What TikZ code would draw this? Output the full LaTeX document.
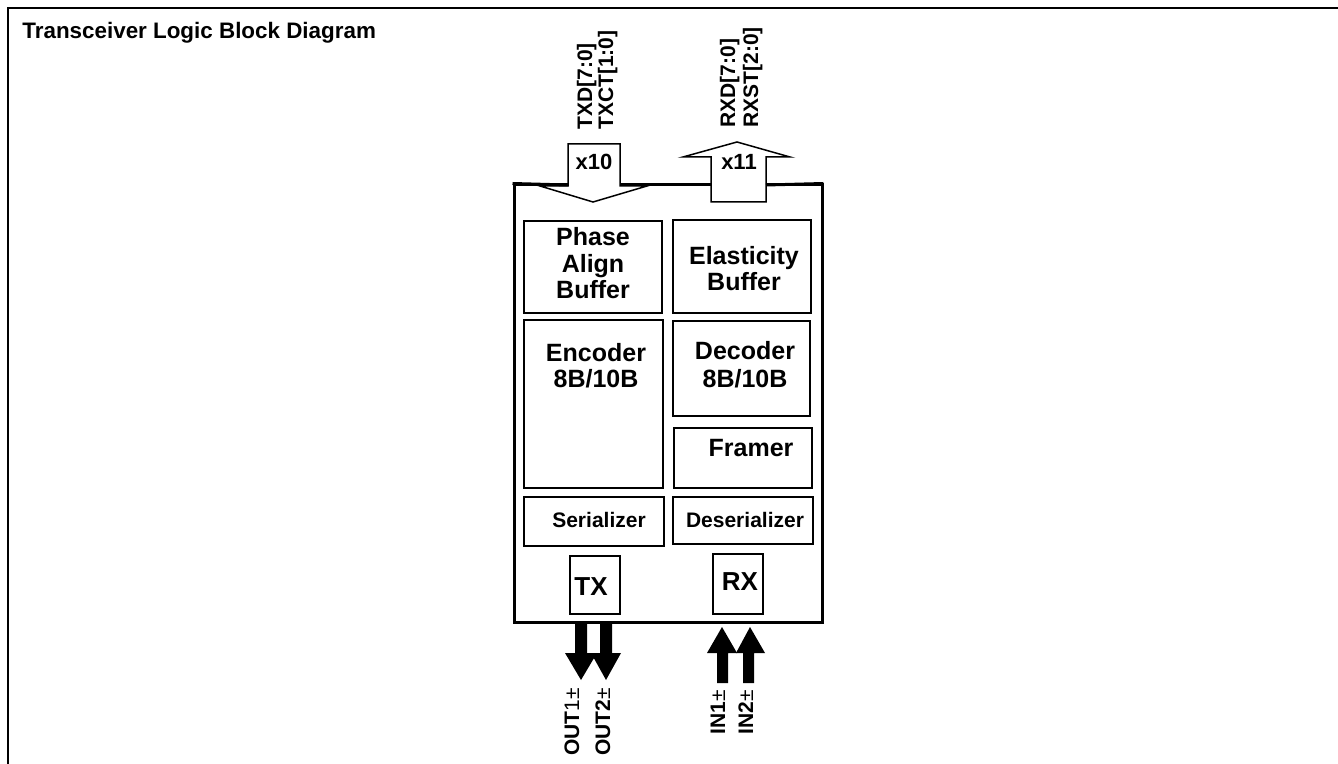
\documentclass[tikz,border=0pt]{standalone}
\usepackage{fontspec}
\setmainfont{Liberation Sans}
\usetikzlibrary{fit}
\begin{document}
\begin{tikzpicture}[x=0.5pt,y=-0.5pt,
  frameline/.style={line width=1.25pt},
  mainbox/.style={draw, line width=1.5pt, inner sep=0pt},
  blk/.style={draw, line width=0.75pt, inner sep=0pt},
  hollow/.style={draw, fill=white, line width=0.75pt, line join=miter},
  solidarrow/.style={fill=black},
  titletext/.style={font=\fontsize{11.2}{12}\selectfont\bfseries, inner sep=0pt, anchor=base west},
  bigtext/.style={font=\fontsize{12.5}{13}\selectfont\bfseries, inner sep=0pt, anchor=base},
  smalltext/.style={font=\fontsize{10.5}{11}\selectfont\bfseries, inner sep=0pt, anchor=base},
  iotext/.style={font=\fontsize{13}{14}\selectfont\bfseries, inner sep=0pt, anchor=base},
  multtext/.style={font=\fontsize{11}{12}\selectfont\bfseries, inner sep=0pt, anchor=base},
  sigtop/.style={font=\fontsize{10.5}{11}\selectfont\bfseries, inner sep=0pt, rotate=90, anchor=base west},
  sigbot/.style={font=\fontsize{10.5}{11}\selectfont\bfseries, inner sep=0pt, rotate=90, anchor=base east}
]
\useasboundingbox (0,0) rectangle (1338,764);

% outer frame (top and left edges)
\draw[frameline] (8,764) -- (8,8) -- (1338,8);
\node[titletext] (title) at (22,39) {Transceiver Logic Block Diagram};

% main box
\node[mainbox, fit={(514,185)(822,622)}] (main) {};

% inner blocks
\node[blk, fit={(524,221)(662,313)}] (pab) {};
\node[blk, fit={(673,220)(811,313)}] (eb) {};
\node[blk, fit={(524,320)(663,488)}] (enc) {};
\node[blk, fit={(673,321)(810,416)}] (dec) {};
\node[blk, fit={(674,428)(812,488)}] (frm) {};
\node[blk, fit={(524,497)(664,546)}] (ser) {};
\node[blk, fit={(673,497)(813,544)}] (des) {};
\node[blk, fit={(570,556)(620,614)}] (tx) {};
\node[blk, fit={(713,554)(763,614)}] (rx) {};

% block texts
\node[bigtext] (pab1) at (593,246) {Phase};
\node[bigtext] (pab2) at (593,273) {Align};
\node[bigtext] (pab3) at (593,299) {Buffer};
\node[bigtext] (eb1) at (744,265) {Elasticity};
\node[bigtext] (eb2) at (744,291) {Buffer};
\node[bigtext] (enc1) at (596,362) {Encoder};
\node[bigtext] (enc2) at (596,388) {8B/10B};
\node[bigtext] (dec1) at (745,360) {Decoder};
\node[bigtext] (dec2) at (745,387) {8B/10B};
\node[bigtext] (frm1) at (751,457) {Framer};
\node[smalltext] (ser1) at (599,527) {Serializer};
\node[smalltext] (des1) at (745,527) {Deserializer};
\node[iotext] (tx1) at (591,595) {TX};
\node[iotext] (rx1) at (740,590) {RX};

% top hollow arrows
\draw[hollow] (568,144) -- (620,144) -- (620,186) -- (647,186) -- (593,202)
  -- (540,186) -- (568,186) -- cycle;
\draw[hollow] (711,202) -- (711,157) -- (683,157) -- (737,142) -- (790,157)
  -- (766,157) -- (766,202) -- cycle;
% restore box top edge outside the arrow shafts
\draw[line width=1.5pt] (main.north west) -- (568,185);
\draw[line width=1.5pt] (620,185) -- (711,185);
\draw[line width=1.5pt] (766,185) -- (main.north east);

\node[multtext] (x10) at (594,170) {x10};
\node[multtext] (x11) at (739,170) {x11};

% top signal labels
\node[sigtop] (txd) at (592,130) {TXD[7:0]};
\node[sigtop] (txct) at (613,130) {TXCT[1:0]};
\node[sigtop] (rxd) at (735,128) {RXD[7:0]};
\node[sigtop] (rxst) at (758,128) {RXST[2:0]};

% bottom solid arrows
\fill[solidarrow] (575,622) -- (587,622) -- (587,653) -- (597,653) -- (581,680)
  -- (565,653) -- (575,653) -- cycle;
\fill[solidarrow] (600,622) -- (612,622) -- (612,653) -- (621,653) -- (606,680)
  -- (591,653) -- (600,653) -- cycle;
\fill[solidarrow] (717,683) -- (728,683) -- (728,653) -- (737,653) -- (722,627)
  -- (707,653) -- (717,653) -- cycle;
\fill[solidarrow] (743,683) -- (754,683) -- (754,653) -- (765,653) -- (750,627)
  -- (736,653) -- (743,653) -- cycle;

% bottom signal labels
\node[sigbot] (out1) at (579,688) {OUT\textmd{1±}};
\node[sigbot] (out2) at (610,688) {OUT2\textmd{±}};
\node[sigbot] (in1) at (725,690) {IN1\textmd{±}};
\node[sigbot] (in2) at (753,690) {IN2\textmd{±}};
\end{tikzpicture}
\end{document}
